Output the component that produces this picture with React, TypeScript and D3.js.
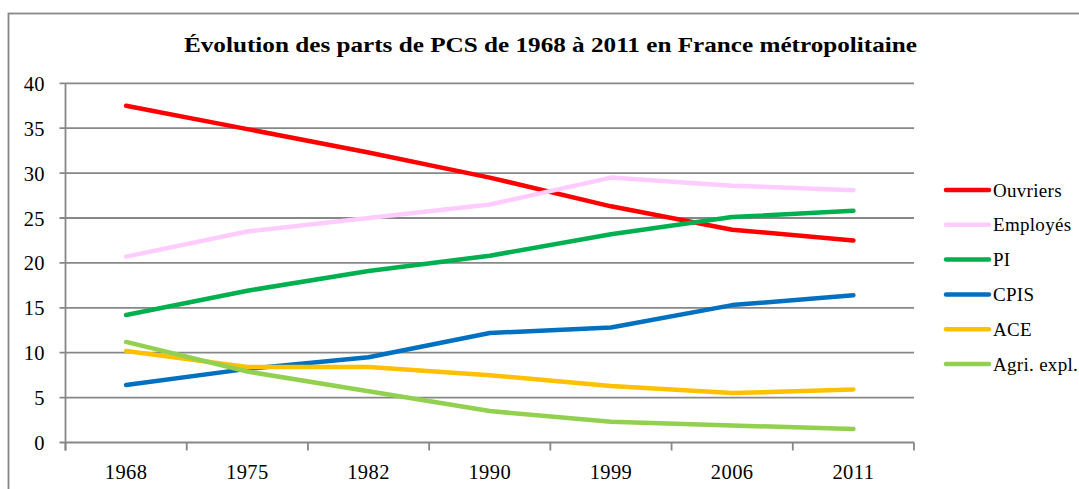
import React from "react";
import * as d3 from "d3";

const years = ["1968", "1975", "1982", "1990", "1999", "2006", "2011"];
const ouvriers = [37.5, 34.9, 32.3, 29.5, 26.3, 23.7, 22.5];
const employes = [20.7, 23.5, 25.0, 26.5, 29.5, 28.6, 28.1];
const pi = [14.2, 16.9, 19.1, 20.8, 23.2, 25.1, 25.8];
const cpis = [6.4, 8.2, 9.5, 12.2, 12.8, 15.3, 16.4];
const ace = [10.2, 8.4, 8.4, 7.5, 6.3, 5.5, 5.9];
const agri = [11.2, 7.9, 5.7, 3.5, 2.3, 1.9, 1.5];
const yTicks = [0, 5, 10, 15, 20, 25, 30, 35, 40];

const seriesNames = ["Ouvriers", "Employés", "PI", "CPIS", "ACE", "Agri. expl."];
const seriesValues = [ouvriers, employes, pi, cpis, ace, agri];
const seriesColors = ["#FF0000", "#FFCCFF", "#00B050", "#0070C0", "#FFC000", "#92D050"];

const title = "Évolution des parts de PCS de 1968 à 2011 en France métropolitaine";

export default function App() {
  const W = 1079;
  const H = 489;
  const left = 65.5;
  const right = 914;
  const top = 83.3;
  const bottom = 442.5;
  const x = d3.scaleBand<string>().domain(years).range([left, right]).padding(0);
  const y = d3.scaleLinear().domain([0, 40]).range([bottom, top]);
  const line = d3
    .line<number>()
    .x((_, i) => (x(years[i]) as number) + x.bandwidth() / 2)
    .y((d) => y(d));
  const grid = "#878787";
  const font = "'Liberation Serif', serif";
  const legendX0 = 946;
  const legendX1 = 989;
  const legendY0 = 190;
  const legendStep = 34.8;

  return (
    <svg
      width={W}
      height={H}
      style={{ position: "absolute", left: 0, top: 0, display: "block", background: "#fff" }}
    >
      <rect x={8.5} y={13.5} width={W + 20} height={H + 20} fill="#fff" stroke={grid} strokeWidth={1.8} />
      <text
        x={550.5}
        y={52}
        textAnchor="middle"
        fontFamily={font}
        fontWeight="bold"
        fontSize={22}
        textLength={733}
        lengthAdjust="spacingAndGlyphs"
        fill="#000"
      >
        {title}
      </text>
      {yTicks.map((t) => (
        <g key={t}>
          <line x1={left - 6} x2={right} y1={y(t)} y2={y(t)} stroke={grid} strokeWidth={1.8} />
          <text
            x={45}
            y={y(t) + 7.5}
            textAnchor="end"
            fontFamily={font}
            fontSize={20.5}
            letterSpacing={0.4}
            fill="#000"
          >
            {t}
          </text>
        </g>
      ))}
      <line x1={left} x2={left} y1={top} y2={bottom + 8} stroke={grid} strokeWidth={1.8} />
      {years.map((yr) => (
        <line
          key={"t" + yr}
          x1={x(yr) as number}
          x2={x(yr) as number}
          y1={bottom}
          y2={bottom + 8}
          stroke={grid}
          strokeWidth={1.8}
        />
      ))}
      <line x1={right} x2={right} y1={bottom} y2={bottom + 8} stroke={grid} strokeWidth={1.8} />
      {years.map((yr) => (
        <text
          key={"l" + yr}
          x={(x(yr) as number) + x.bandwidth() / 2}
          y={478.5}
          textAnchor="middle"
          fontFamily={font}
          fontSize={20.5}
          letterSpacing={0.4}
          fill="#000"
        >
          {yr}
        </text>
      ))}
      {seriesValues.map((vals, i) => (
        <path
          key={seriesNames[i]}
          d={line(vals) || ""}
          fill="none"
          stroke={seriesColors[i]}
          strokeWidth={4.5}
          strokeLinecap="round"
          strokeLinejoin="round"
        />
      ))}
      {seriesNames.map((name, i) => (
        <g key={"lg" + name}>
          <line
            x1={legendX0}
            x2={legendX1}
            y1={legendY0 + i * legendStep}
            y2={legendY0 + i * legendStep}
            stroke={seriesColors[i]}
            strokeWidth={4.5}
            strokeLinecap="round"
          />
          <text
            x={legendX1 + 4}
            y={legendY0 + i * legendStep + 6.5}
            fontFamily={font}
            fontSize={19}
            letterSpacing={0.3}
            fill="#000"
          >
            {name}
          </text>
        </g>
      ))}
    </svg>
  );
}
